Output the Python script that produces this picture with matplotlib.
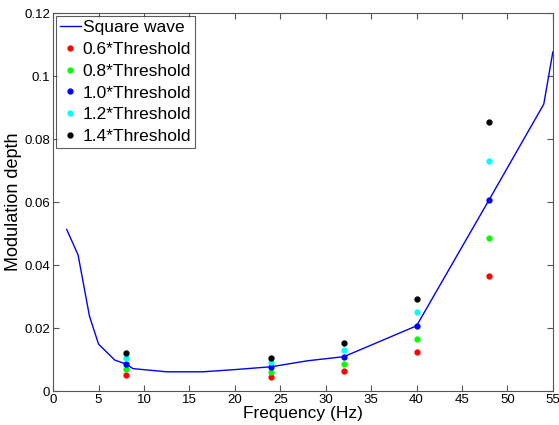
import matplotlib
matplotlib.use("Agg")
import matplotlib.pyplot as plt

# square wave curve
freq_line = [1.5, 2.75, 4.0, 5.0, 6.8, 8.0, 8.8, 12.5, 16.5, 20, 24, 28, 32, 40, 48, 54, 55]
depth_line = [0.0513, 0.0432, 0.0238, 0.0149, 0.0098, 0.0086, 0.0071, 0.0061, 0.0061,
              0.0068, 0.0077, 0.0096, 0.0109, 0.0207, 0.0608, 0.0911, 0.1077]

# threshold measurements
freq_pts = [8, 24, 32, 40, 48]
thr_06 = [0.0052, 0.0045, 0.0064, 0.0125, 0.0365]
thr_08 = [0.0069, 0.0060, 0.0087, 0.0166, 0.0487]
thr_10 = [0.0087, 0.0075, 0.0109, 0.0207, 0.0608]
thr_12 = [0.0104, 0.0091, 0.0129, 0.0250, 0.0731]
thr_14 = [0.0120, 0.0105, 0.0151, 0.0292, 0.0853]

plt.rcParams['font.family'] = ['Liberation Sans', 'DejaVu Sans']

fig = plt.figure(figsize=(5.59, 4.25), dpi=100)
ax = fig.add_axes([0.095, 0.080, 0.894, 0.889])

ax.plot(freq_line, depth_line, color='#0000ff', lw=1.0, label='Square wave')
series = [(thr_06, '#ff0000', '0.6*Threshold'),
          (thr_08, '#00ff00', '0.8*Threshold'),
          (thr_10, '#0000ff', '1.0*Threshold'),
          (thr_12, '#00ffff', '1.2*Threshold'),
          (thr_14, '#000000', '1.4*Threshold')]
for vals, col, lab in series:
    ax.plot(freq_pts, vals, 'o', color=col, ms=3.5, label=lab, linestyle='none')

ax.set_xlim(0, 55)
ax.set_ylim(0, 0.12)
ax.set_xticks(range(0, 56, 5))
ax.set_yticks([0, 0.02, 0.04, 0.06, 0.08, 0.1, 0.12])
ax.set_yticklabels(['0', '0.02', '0.04', '0.06', '0.08', '0.1', '0.12'])
ax.tick_params(direction='in', top=True, right=True, labelsize=9.5, length=4,
               color='#555555', pad=2)
for s in ax.spines.values():
    s.set_color('#555555')
ax.set_xlabel('Frequency (Hz)', fontsize=12.5, labelpad=0)
ax.set_ylabel('Modulation depth', fontsize=13)
ax.yaxis.set_label_coords(-0.062, 0.5)

leg = ax.legend(loc='upper left', fontsize=12.5, frameon=True, fancybox=False,
                edgecolor='#333333', borderpad=0.25, labelspacing=0.38,
                handlelength=1.2, handletextpad=0.1, borderaxespad=0.15)
leg.get_frame().set_linewidth(0.8)

fig.savefig('out.png', dpi=100)
